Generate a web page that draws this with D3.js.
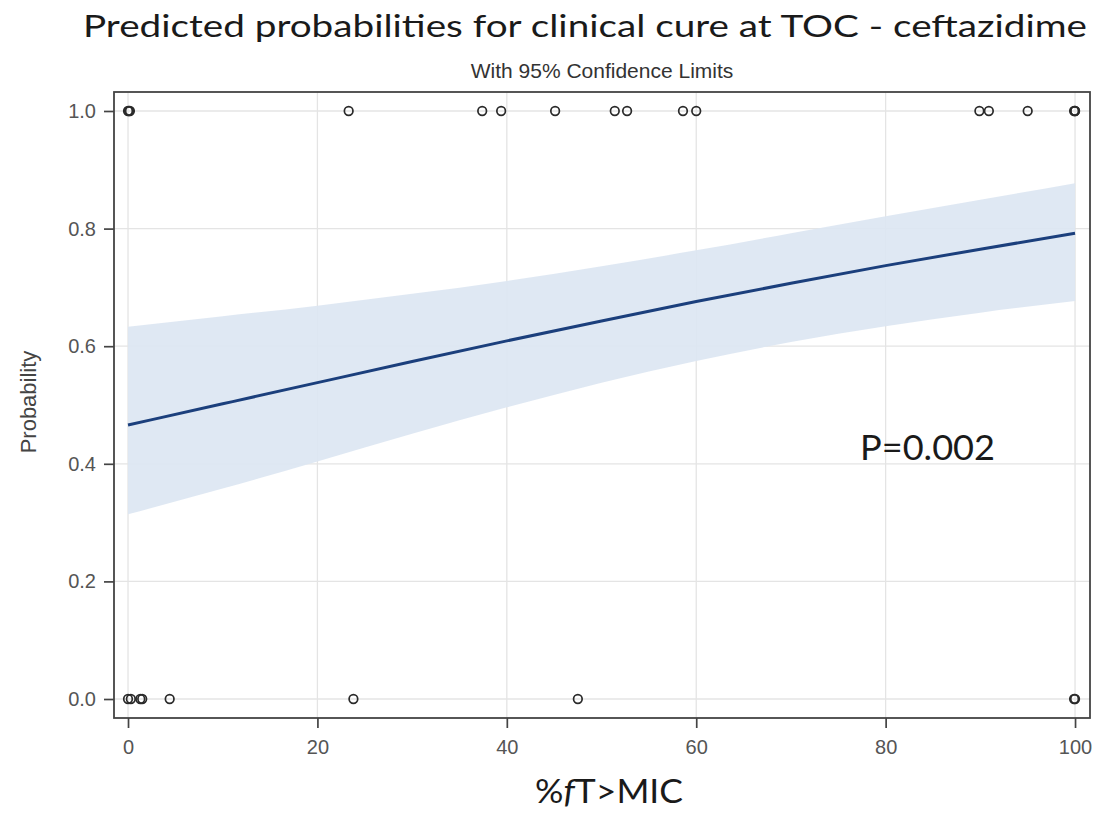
<!DOCTYPE html>
<html>
<head>
<meta charset="utf-8">
<script src="https://cdn.jsdelivr.net/npm/d3@7"></script>
<style>
  body { margin: 0; background: #fff; }
  svg { display: block; }
</style>
</head>
<body>
<div id="chart"></div>
<script>
// Predicted curve and 95% limits
const fitX = [0, 10, 20, 30, 40, 50, 60, 70, 80, 90, 100];
const fitY = [0.466, 0.502, 0.538, 0.574, 0.609, 0.643, 0.676, 0.707, 0.737, 0.765, 0.792];
const lowerY = [0.314, 0.358, 0.404, 0.451, 0.496, 0.538, 0.575, 0.607, 0.634, 0.657, 0.677];
const upperY = [0.633, 0.651, 0.669, 0.689, 0.711, 0.736, 0.763, 0.792, 0.821, 0.849, 0.877];

// Observed outcomes (cured = 1, not cured = 0)
const curedX = [0, 0.1, 0.2, 23.3, 37.4, 39.4, 45.1, 51.4, 52.7, 58.6, 60.0, 89.9, 90.9, 95.0, 99.9, 100, 100];
const failedX = [0, 0.3, 1.3, 1.5, 4.4, 23.8, 47.5, 99.9, 100];

const xTicks = [0, 20, 40, 60, 80, 100];
const yTicks = [0.0, 0.2, 0.4, 0.6, 0.8, 1.0];

const W = 1094, H = 813;
const frame = { left: 114, right: 1090, top: 92, bottom: 718 };
const sasFont = "Arial, 'Liberation Sans', sans-serif";
const officeFont = "Lato, 'Open Sans', sans-serif";

const svg = d3.select("#chart").append("svg")
    .attr("width", W)
    .attr("height", H);

const x = d3.scaleLinear().domain([-1.48, 101.58]).range([frame.left, frame.right]);
const y = d3.scaleLinear().domain([-0.0323, 1.0323]).range([frame.bottom, frame.top]);

// grid
svg.append("g").selectAll("line")
    .data(xTicks).join("line")
    .attr("x1", d => x(d)).attr("x2", d => x(d))
    .attr("y1", frame.top).attr("y2", frame.bottom)
    .attr("stroke", "#e4e4e4").attr("stroke-width", 1.3);
svg.append("g").selectAll("line")
    .data(yTicks).join("line")
    .attr("x1", frame.left).attr("x2", frame.right)
    .attr("y1", d => y(d)).attr("y2", d => y(d))
    .attr("stroke", "#e4e4e4").attr("stroke-width", 1.3);

// confidence band
const band = fitX.map((v, i) => ({ x: v, lo: lowerY[i], hi: upperY[i] }));
svg.append("path")
    .datum(band)
    .attr("fill", "#dce6f2")
    .attr("fill-opacity", 0.92)
    .attr("d", d3.area()
        .curve(d3.curveNatural)
        .x(d => x(d.x))
        .y0(d => y(d.lo))
        .y1(d => y(d.hi)));

// predicted line
svg.append("path")
    .datum(fitX.map((v, i) => ({ x: v, p: fitY[i] })))
    .attr("fill", "none")
    .attr("stroke", "#1b3f7c")
    .attr("stroke-width", 3)
    .attr("d", d3.line()
        .curve(d3.curveNatural)
        .x(d => x(d.x))
        .y(d => y(d.p)));

// observed points
const pts = curedX.map(v => ({ x: v, y: 1 })).concat(failedX.map(v => ({ x: v, y: 0 })));
svg.append("g").selectAll("circle")
    .data(pts).join("circle")
    .attr("cx", d => x(d.x))
    .attr("cy", d => y(d.y))
    .attr("r", 4.3)
    .attr("fill", "none")
    .attr("stroke", "#2a2a2a")
    .attr("stroke-width", 1.7);

// axes
const axisX = svg.append("g")
    .attr("transform", `translate(0,${frame.bottom})`)
    .call(d3.axisBottom(x).tickValues(xTicks).tickSize(10).tickPadding(12).tickFormat(d3.format("d")));
const axisY = svg.append("g")
    .attr("transform", `translate(${frame.left},0)`)
    .call(d3.axisLeft(y).tickValues(yTicks).tickSize(10).tickPadding(8).tickFormat(d3.format(".1f")));

[axisX, axisY].forEach(g => {
    g.select(".domain").remove();
    g.selectAll(".tick line").attr("stroke", "#444").attr("stroke-width", 1.7);
    g.selectAll(".tick text")
        .attr("fill", "#555")
        .style("font-family", sasFont)
        .style("font-size", "20px");
});

// frame
svg.append("rect")
    .attr("x", frame.left).attr("y", frame.top)
    .attr("width", frame.right - frame.left)
    .attr("height", frame.bottom - frame.top)
    .attr("fill", "none")
    .attr("stroke", "#444")
    .attr("stroke-width", 1.8);

// titles
svg.append("text")
    .attr("x", 83).attr("y", 37)
    .attr("textLength", 1004)
    .attr("lengthAdjust", "spacingAndGlyphs")
    .style("font-family", officeFont)
    .style("font-size", "31px")
    .attr("fill", "#1a1a1a")
    .text("Predicted probabilities for clinical cure at TOC - ceftazidime");

svg.append("text")
    .attr("x", (frame.left + frame.right) / 2).attr("y", 78)
    .attr("text-anchor", "middle")
    .style("font-family", sasFont)
    .style("font-size", "21px")
    .attr("fill", "#333")
    .text("With 95% Confidence Limits");

svg.append("text")
    .attr("transform", `translate(36,${(frame.top + frame.bottom) / 2 - 3}) rotate(-90)`)
    .attr("text-anchor", "middle")
    .style("font-family", sasFont)
    .style("font-size", "22px")
    .attr("fill", "#444")
    .text("Probability");

const xl = svg.append("text")
    .attr("x", 535).attr("y", 803)
    .attr("textLength", 148)
    .attr("lengthAdjust", "spacingAndGlyphs")
    .style("font-family", officeFont)
    .style("font-size", "33px")
    .attr("fill", "#1a1a1a");
xl.append("tspan").text("%");
xl.append("tspan").style("font-style", "italic").text("f");
xl.append("tspan").text("T>MIC");

svg.append("text")
    .attr("x", 860).attr("y", 460)
    .attr("textLength", 135)
    .attr("lengthAdjust", "spacingAndGlyphs")
    .style("font-family", officeFont)
    .style("font-size", "35px")
    .attr("fill", "#1a1a1a")
    .text("P=0.002");
</script>
</body>
</html>
